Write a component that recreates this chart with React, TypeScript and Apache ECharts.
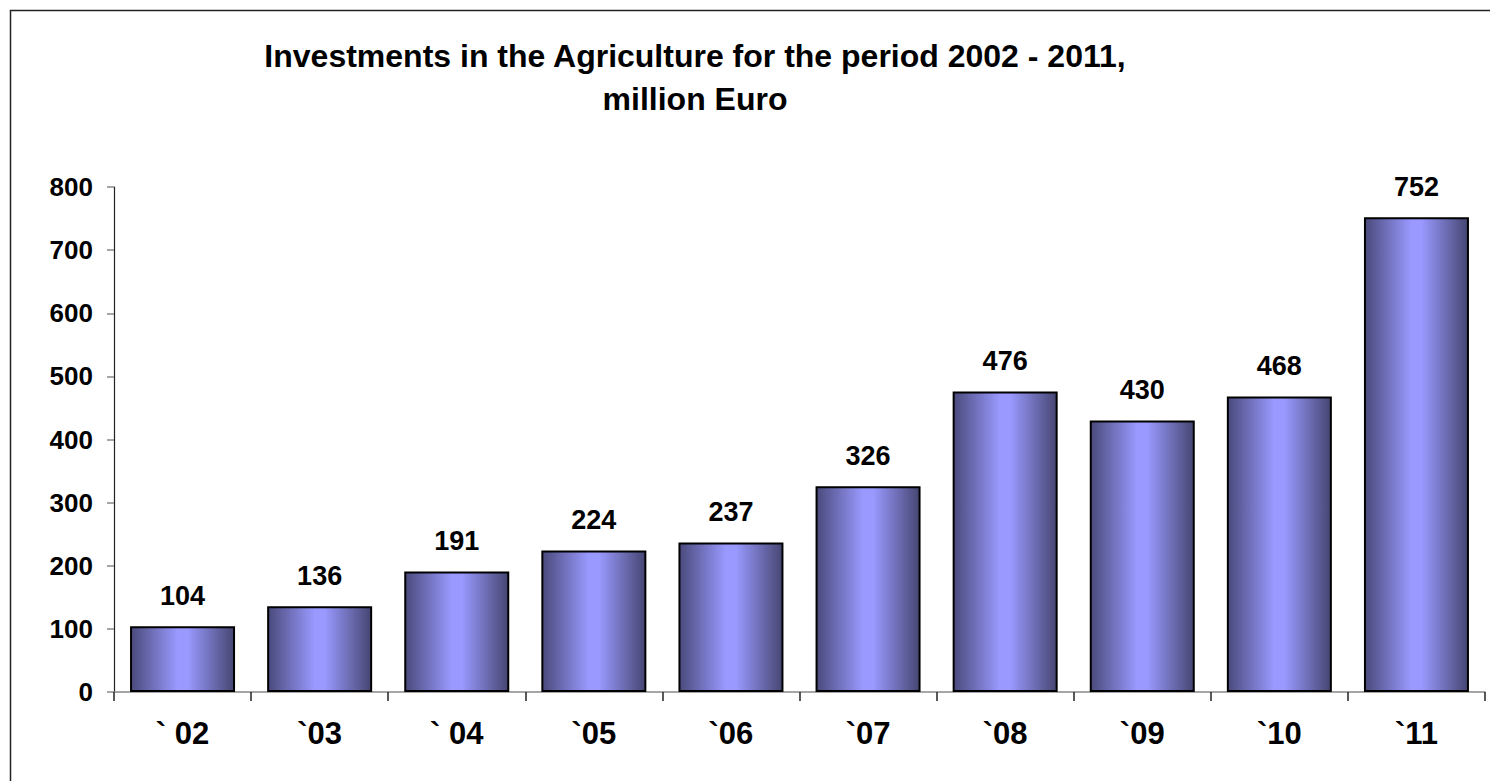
import React, { useEffect, useRef } from "react";
import * as echarts from "echarts";

const categories = ["` 02", "`03", "` 04", "`05", "`06", "`07", "`08", "`09", "`10", "`11"];
const values = [104, 136, 191, 224, 237, 326, 476, 430, 468, 752];
const titleLines = ["Investments in the Agriculture for the period 2002 - 2011,", "million Euro"];

export default function App() {
  const ref = useRef<HTMLDivElement>(null);
  useEffect(() => {
    if (!ref.current) return;
    const chart = echarts.init(ref.current, undefined, { renderer: "svg" });
    const font = "'Liberation Sans', Arial, sans-serif";
    chart.setOption({
      animation: false,
      backgroundColor: "#ffffff",
      title: {
        text: titleLines.join("\n"),
        left: 690,
        textAlign: "center",
        top: 29,
        textStyle: { fontFamily: font, fontWeight: "bold", fontSize: 32, lineHeight: 43, color: "#000" },
      },
      graphic: [
        {
          type: "rect",
          shape: { x: 10.5, y: 10.5, width: 1490, height: 800 },
          style: { fill: "none", stroke: "#222", lineWidth: 1.5 },
          silent: true,
        },
      ],
      grid: { left: 114, top: 187, right: 5, bottom: 89, containLabel: false },
      xAxis: {
        type: "category",
        data: categories,
        axisLine: { lineStyle: { color: "#888", width: 1.5 } },
        axisTick: { show: true, length: 9, lineStyle: { color: "#222", width: 1.5 } },
        axisLabel: { fontFamily: font, fontWeight: "bold", fontSize: 31, color: "#000", margin: 26 },
      },
      yAxis: {
        type: "value",
        min: 0,
        max: 800,
        interval: 100,
        splitLine: { show: false },
        axisLine: { show: true, lineStyle: { color: "#222", width: 1.2 } },
        axisTick: { show: true, length: 7, lineStyle: { color: "#888", width: 1.5 } },
        axisLabel: { fontFamily: font, fontWeight: "bold", fontSize: 26, color: "#000", margin: 21 },
      },
      series: [
        {
          type: "bar",
          data: values,
          barWidth: 105,
          itemStyle: {
            borderColor: "#000",
            borderWidth: 2,
            color: new echarts.graphic.LinearGradient(0, 0, 1, 0, [
              { offset: 0, color: "#4a4a7c" },
              { offset: 0.45, color: "#9999ff" },
              { offset: 0.55, color: "#9999ff" },
              { offset: 1, color: "#464672" },
            ]),
          },
          label: {
            show: true,
            position: "top",
            distance: 17,
            fontFamily: font,
            fontWeight: "bold",
            fontSize: 27,
            color: "#000",
          },
        },
      ],
    });
    return () => chart.dispose();
  }, []);
  return <div ref={ref} style={{ position: "fixed", left: 0, top: 0, width: 1490, height: 781 }} />;
}
